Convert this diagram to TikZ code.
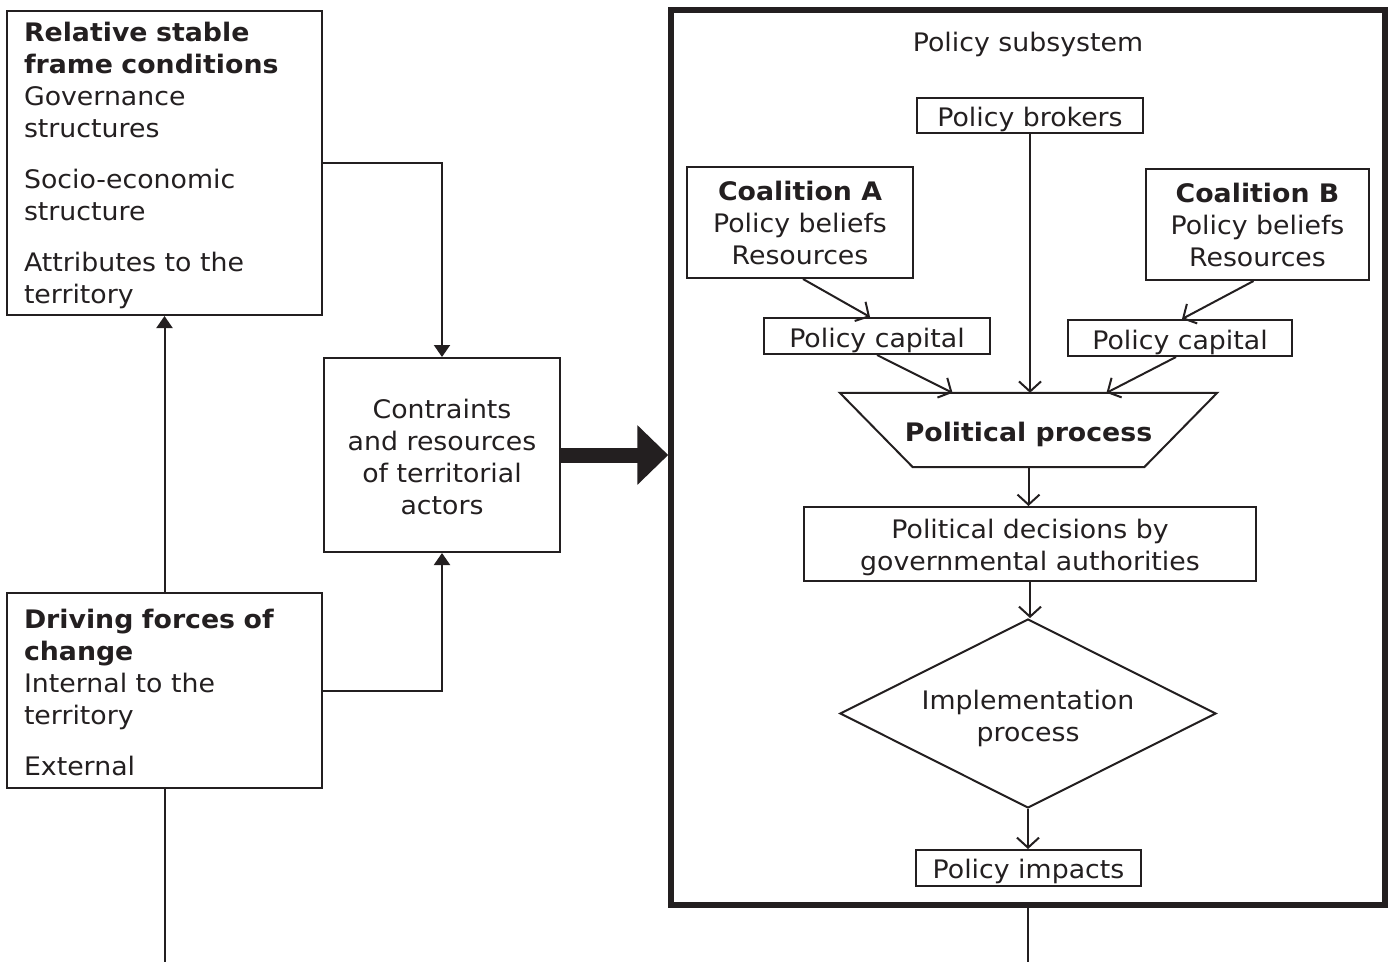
\documentclass[tikz,border=0pt]{standalone}
\usepackage{fontspec}
\setmainfont{DejaVu Sans}[FakeStretch=1.05]
\usetikzlibrary{arrows.meta,shapes.geometric,calc}
\definecolor{ink}{HTML}{231F20}
\newcommand\tc[2][4pt]{\raisebox{-#1}[\height][\depth]{\begin{tabular}{@{}c@{}}#2\end{tabular}}}
\newcommand\tl[2][4pt]{\raisebox{-#1}[\height][\depth]{\begin{tabular}{@{}l@{}}#2\end{tabular}}}
\begin{document}
\begin{tikzpicture}[x=1pt,y=-1pt,
  every node/.style={text=ink,font=\fontsize{25.5}{32}\selectfont},
  box/.style={draw=ink,line width=2pt,inner sep=0pt,align=center},
  leftbox/.style={draw=ink,line width=2pt,inner xsep=17pt,inner ysep=0pt,text width=281pt,align=left},
  fillarr/.style={draw=ink,line width=2pt,-{Triangle[length=12pt,width=16pt]}},
  openarr/.style={draw=ink,line width=2pt,-{Straight Barb[length=10pt,width=22pt]}},
  plain/.style={draw=ink,line width=2pt}]
\useasboundingbox (0,0) rectangle (1392,962);

% left side
\node[leftbox,minimum width=315pt,minimum height=304pt] (frame) at (164.5,163)
  {\tl[3pt]{\textbf{Relative stable}\\ \textbf{frame conditions}\\ Governance\\ structures\\[19pt]
   Socio-economic\\ structure\\[19pt] Attributes to the\\ territory}};
\node[leftbox,minimum width=315pt,minimum height=195pt] (drive) at (164.5,690.5)
  {\tl[5pt]{\textbf{Driving forces of}\\ \textbf{change}\\ Internal to the\\ territory\\[19pt] External}};
\node[box,minimum width=236pt,minimum height=194pt] (cons) at (442,455)
  {\tc[5pt]{Contraints\\ and resources\\ of territorial\\ actors}};

% policy subsystem
\node[draw=ink,line width=5.5pt,minimum width=714pt,minimum height=895pt,inner sep=0pt] (sub) at (1028,457.5) {};
\node (title) at (1028,42) {\tc[3pt]{Policy subsystem}};
\node[box,minimum width=226pt,minimum height=35pt] (brok) at (1030,115.5) {\tc[5pt]{Policy brokers}};
\node[box,minimum width=226pt,minimum height=111pt] (coalA) at (800,222.5)
  {\tc[4pt]{\textbf{Coalition A}\\ Policy beliefs\\ Resources}};
\node[box,minimum width=223pt,minimum height=111pt] (coalB) at (1257.5,224.5)
  {\tc[4pt]{\textbf{Coalition B}\\ Policy beliefs\\ Resources}};
\node[box,minimum width=226pt,minimum height=36pt] (pcA) at (877,336) {\tc[5pt]{Policy capital}};
\node[box,minimum width=224pt,minimum height=36pt] (pcB) at (1180,338) {\tc[5pt]{Policy capital}};
\node[inner sep=0pt,minimum width=377pt,minimum height=74pt] (pp) at (1028.5,430)
  {\tc[5pt]{\textbf{Political process}}};
\draw[draw=ink,line width=2pt,line join=miter] (pp.north west) -- (pp.north east)
  -- ([xshift=-73pt]pp.south east) -- ([xshift=73pt]pp.south west) -- cycle;
\node[box,minimum width=452pt,minimum height=74pt] (dec) at (1030,544)
  {\tc[4.5pt]{Political decisions by\\ governmental authorities}};
\node[box,diamond,aspect=2,minimum width=376pt,minimum height=189pt] (impl) at (1028,713.5)
  {\tc[6pt]{Implementation\\ process}};
\node[box,minimum width=225pt,minimum height=36pt] (imp) at (1028.5,868) {\tc[4pt]{Policy impacts}};

\coordinate (endL) at (164.5,962);
\coordinate (endR) at (1028,962);

% connectors left
\draw[fillarr] (frame.east) -| (cons.north);
\draw[fillarr] (drive.east) -| (cons.south);
\draw[fillarr] (drive.north) -- (frame.south);
\draw[plain] (drive.south) -- (endL);
\draw[draw=ink,line width=15pt,-{Triangle[length=31pt,width=58pt]}] (cons.east) -- (cons.east -| sub.west);

% connectors right
\draw[openarr] (brok.south) -- (brok.south |- pp.north);
\draw[openarr] ([xshift=3pt]coalA.south) -- ([xshift=-7pt]pcA.north);
\draw[openarr] (pcA.south) -- ([xshift=-76pt]pp.north);
\draw[openarr] ([xshift=-4pt]coalB.south) -- ([xshift=2pt]pcB.north);
\draw[openarr] ([xshift=-4pt]pcB.south) -- ([xshift=78pt]pp.north);
\draw[openarr] (pp.south) -- (pp.south |- dec.north);
\draw[openarr] (dec.south) -- (dec.south |- impl.north);
\draw[openarr] (impl.south) -- (impl.south |- imp.north);
\draw[plain] (sub.south) -- (endR);
\end{tikzpicture}
\end{document}
